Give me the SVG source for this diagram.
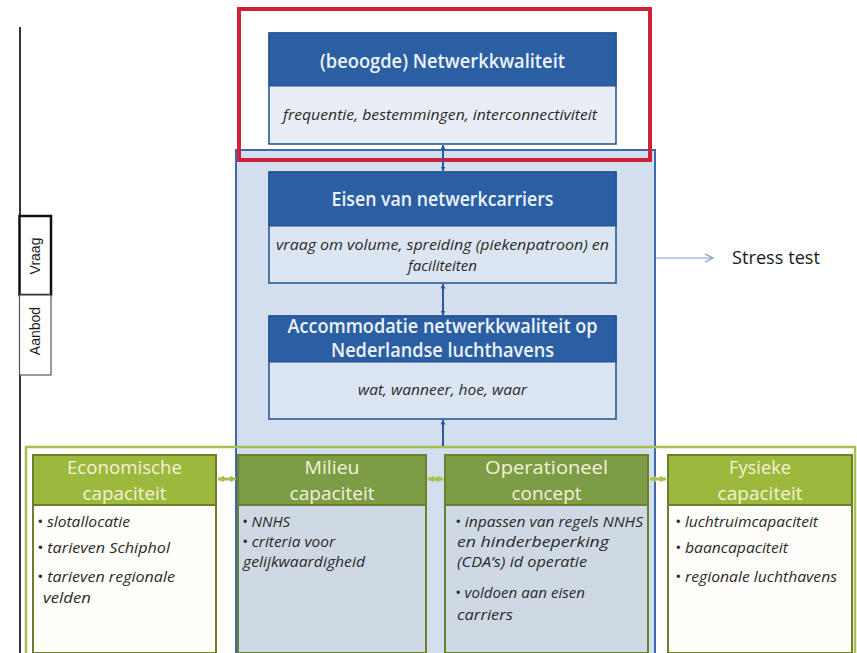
<svg xmlns="http://www.w3.org/2000/svg" width="857" height="653" viewBox="0 0 857 653">
  <defs>
    <marker id="ah" viewBox="0 0 10 10" refX="9" refY="5" markerWidth="5" markerHeight="5" orient="auto-start-reverse" markerUnits="userSpaceOnUse">
      <path d="M0,0 L10,5 L0,10 z" fill="#2d5a9e"/>
    </marker>
    <marker id="gh" viewBox="0 0 10 10" refX="9" refY="5" markerWidth="7" markerHeight="7" orient="auto-start-reverse" markerUnits="userSpaceOnUse">
      <path d="M0,0 L10,5 L0,10 z" fill="#a9c04e"/>
    </marker>
    <marker id="oh" viewBox="0 0 10 10" refX="9" refY="5" markerWidth="10" markerHeight="10" orient="auto" markerUnits="userSpaceOnUse">
      <path d="M1,1 L9,5 L1,9" fill="none" stroke="#7d9bd6" stroke-width="1.2"/>
    </marker>
  </defs>
  <style>
    text { font-family: "Open Sans", "Liberation Sans", sans-serif; }
    .hd { fill: #eef2f8; font-size: 19px; font-weight: 600; text-anchor: middle; }
    .bd { fill: #2a2a2a; font-size: 14px; font-style: italic; text-anchor: middle; }
    .ghd { fill: #f4f1d8; font-size: 19px; text-anchor: middle; }
    .bl { fill: #2a2a2a; font-size: 14.5px; font-style: italic; }
    .hdr { fill: #2a5fa3; stroke: #1f4f8e; stroke-width: 1; }
    .body { stroke: #1f4f8e; stroke-width: 1.5; }
    .gbox { stroke: #6d7f2c; stroke-width: 2; }
    .lite { fill: #9bb93c; }
    .dark { fill: #7d9c46; }
    .tint { fill: #cfd9e4; }
    .side { fill: #1a1a1a; font-size: 14px; text-anchor: middle; font-family: "Liberation Sans", sans-serif; }
    .conn { stroke: #2d5a9e; stroke-width: 2; fill: none; }
    .gconn { stroke: #a9c04e; stroke-width: 3; fill: none; }
  </style>

  <!-- left axis with Vraag / Aanbod tabs -->
  <g id="axis">
    <line x1="20" y1="27" x2="20" y2="653" stroke="#3a3046" stroke-width="2"/>
    <rect x="19.5" y="216" width="31.5" height="79" fill="#ffffff" stroke="#111" stroke-width="2.5"/>
    <rect x="19.5" y="295" width="31.5" height="80" fill="#ffffff" stroke="#555" stroke-width="1.2"/>
    <text class="side" transform="translate(40,256) rotate(-90)">Vraag</text>
    <text class="side" transform="translate(40,331) rotate(-90)">Aanbod</text>
  </g>

  <!-- stress-test panel behind the middle column -->
  <g id="stress-test-panel">
    <rect x="236" y="150" width="419" height="520" fill="#d3dfee" stroke="#3b6ab0" stroke-width="2"/>
  </g>

  <!-- supply layer: outer green frame and the four capacity boxes -->
  <g id="aanbod-frame">
    <rect x="26" y="447" width="829" height="220" fill="none" stroke="#a9c04e" stroke-width="2.5"/>
  </g>

  <g id="economische-capaciteit">
    <rect class="gbox" x="33" y="455" width="183" height="198" fill="#fffefa"/>
    <rect class="gbox lite" x="33" y="455" width="183" height="50"/>
    <text class="ghd" x="124.5" y="474" textLength="115" lengthAdjust="spacingAndGlyphs">Economische</text>
    <text class="ghd" x="124.5" y="500" textLength="84" lengthAdjust="spacingAndGlyphs">capaciteit</text>
    <text class="bl" x="37" y="527" textLength="93" lengthAdjust="spacingAndGlyphs">• slotallocatie</text>
    <text class="bl" x="37" y="553" textLength="133" lengthAdjust="spacingAndGlyphs">• tarieven Schiphol</text>
    <text class="bl" x="37" y="582" textLength="138" lengthAdjust="spacingAndGlyphs">• tarieven regionale</text>
    <text class="bl" x="43" y="603" textLength="48" lengthAdjust="spacingAndGlyphs">velden</text>
  </g>

  <g id="milieu-capaciteit">
    <rect class="gbox tint" x="238" y="455" width="188" height="198"/>
    <rect class="gbox dark" x="238" y="455" width="188" height="50"/>
    <text class="ghd" x="332" y="474" textLength="55" lengthAdjust="spacingAndGlyphs">Milieu</text>
    <text class="ghd" x="332" y="500" textLength="85" lengthAdjust="spacingAndGlyphs">capaciteit</text>
    <text class="bl" x="242" y="527" textLength="48" lengthAdjust="spacingAndGlyphs">• NNHS</text>
    <text class="bl" x="242" y="547" textLength="93" lengthAdjust="spacingAndGlyphs">• criteria voor</text>
    <text class="bl" x="243" y="567" textLength="122" lengthAdjust="spacingAndGlyphs">gelijkwaardigheid</text>
  </g>

  <g id="operationeel-concept">
    <rect class="gbox tint" x="445" y="455" width="203" height="198"/>
    <rect class="gbox dark" x="445" y="455" width="203" height="50"/>
    <text class="ghd" x="546.5" y="474" textLength="123" lengthAdjust="spacingAndGlyphs">Operationeel</text>
    <text class="ghd" x="546.5" y="500" textLength="70" lengthAdjust="spacingAndGlyphs">concept</text>
    <text class="bl" x="455" y="527" textLength="188" lengthAdjust="spacingAndGlyphs">• inpassen van regels NNHS</text>
    <text class="bl" x="457" y="547" textLength="152" lengthAdjust="spacingAndGlyphs">en hinderbeperking</text>
    <text class="bl" x="457" y="567" textLength="130" lengthAdjust="spacingAndGlyphs">(CDA’s) id operatie</text>
    <text class="bl" x="455" y="598" textLength="130" lengthAdjust="spacingAndGlyphs">• voldoen aan eisen</text>
    <text class="bl" x="457" y="620" textLength="56" lengthAdjust="spacingAndGlyphs">carriers</text>
  </g>

  <g id="fysieke-capaciteit">
    <rect class="gbox" x="668" y="455" width="184" height="198" fill="#fffefa"/>
    <rect class="gbox lite" x="668" y="455" width="184" height="50"/>
    <text class="ghd" x="760" y="474" textLength="62" lengthAdjust="spacingAndGlyphs">Fysieke</text>
    <text class="ghd" x="760" y="500" textLength="85" lengthAdjust="spacingAndGlyphs">capaciteit</text>
    <text class="bl" x="675" y="527" textLength="143" lengthAdjust="spacingAndGlyphs">• luchtruimcapaciteit</text>
    <text class="bl" x="675" y="553" textLength="113" lengthAdjust="spacingAndGlyphs">• baancapaciteit</text>
    <text class="bl" x="675" y="582" textLength="162" lengthAdjust="spacingAndGlyphs">• regionale luchthavens</text>
  </g>

  <!-- demand chain -->
  <g id="eisen-netwerkcarriers">
    <rect class="body" x="269" y="172" width="347" height="111" fill="#dce6f2"/>
    <rect class="hdr" x="269" y="172" width="347" height="54"/>
    <text class="hd" x="442.5" y="206" textLength="222" lengthAdjust="spacingAndGlyphs">Eisen van netwerkcarriers</text>
    <text class="bd" x="442.5" y="250" textLength="333" lengthAdjust="spacingAndGlyphs">vraag om volume, spreiding (piekenpatroon) en</text>
    <text class="bd" x="442.5" y="271" textLength="69" lengthAdjust="spacingAndGlyphs">faciliteiten</text>
  </g>

  <g id="accommodatie">
    <rect class="body" x="269" y="316" width="347" height="103" fill="#dce6f2"/>
    <rect class="hdr" x="269" y="316" width="347" height="46"/>
    <text class="hd" x="442.5" y="333" textLength="310" lengthAdjust="spacingAndGlyphs">Accommodatie netwerkkwaliteit op</text>
    <text class="hd" x="442.5" y="357" textLength="223" lengthAdjust="spacingAndGlyphs">Nederlandse luchthavens</text>
    <text class="bd" x="442.5" y="395" textLength="169" lengthAdjust="spacingAndGlyphs">wat, wanneer, hoe, waar</text>
  </g>

  <g id="netwerkkwaliteit">
    <rect class="body" x="269" y="33" width="347" height="111" fill="#e9eef6"/>
    <rect class="hdr" x="269" y="33" width="347" height="53"/>
    <text class="hd" x="442.5" y="68" textLength="245" lengthAdjust="spacingAndGlyphs">(beoogde) Netwerkkwaliteit</text>
    <text class="bd" x="440" y="120" textLength="314" lengthAdjust="spacingAndGlyphs">frequentie, bestemmingen, interconnectiviteit</text>
  </g>

  <!-- highlight frame -->
  <g id="focus-frame">
    <rect x="239" y="9" width="411" height="151" fill="none" stroke="#d0213a" stroke-width="4"/>
  </g>

  <g id="connectors">
    <line class="conn" x1="443" y1="145" x2="443" y2="171" marker-start="url(#ah)" marker-end="url(#ah)"/>
    <line class="conn" x1="443" y1="284" x2="443" y2="315" marker-start="url(#ah)" marker-end="url(#ah)"/>
    <line class="conn" x1="443" y1="446" x2="443" y2="420" marker-end="url(#ah)"/>
    <line class="gconn" x1="218" y1="479" x2="236" y2="479" marker-start="url(#gh)" marker-end="url(#gh)"/>
    <line class="gconn" x1="428" y1="479" x2="443" y2="479" marker-start="url(#gh)" marker-end="url(#gh)"/>
    <line class="gconn" x1="650" y1="479" x2="666" y2="479" marker-start="url(#gh)" marker-end="url(#gh)"/>
    <line x1="656" y1="258" x2="713" y2="258" stroke="#7d9bd6" stroke-width="1.2" marker-end="url(#oh)"/>
  </g>

  <g id="stress-test-label">
    <text x="732" y="264" font-size="18" fill="#1a1a1a" textLength="88" lengthAdjust="spacingAndGlyphs">Stress test</text>
  </g>
</svg>
